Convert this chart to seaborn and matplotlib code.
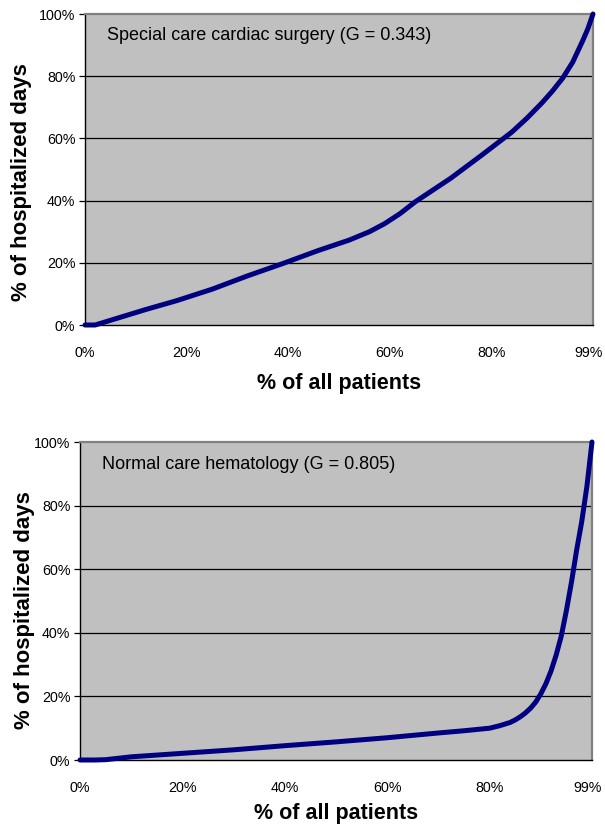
import matplotlib
matplotlib.use("Agg")
import matplotlib.pyplot as plt
import matplotlib.transforms as mtransforms
import seaborn as sns
import pandas as pd

# ---- data (percent) ----
top_x = [0, 2, 4, 8, 12, 18, 25, 32, 39, 46, 52, 56, 59, 62, 65, 72, 78, 84, 87, 90, 92, 94, 96, 98, 99, 100]
top_y = [0, 0, 1, 3, 5, 7.8, 11.5, 15.8, 19.8, 24, 27.3, 30, 32.6, 35.8, 39.6, 47.2, 54.5, 62, 66.5, 71.5, 75.2, 79.3, 84.5, 91.5, 95.3, 100]

bot_x = [0, 3, 5, 10, 20, 30, 40, 50, 60, 70, 75, 80, 82, 84, 85, 86, 87, 88, 89, 90, 91, 92, 93, 94, 95, 96, 97, 98, 99, 100]
bot_y = [0, 0, 0.1, 1.0, 2.1, 3.2, 4.5, 5.7, 7.0, 8.5, 9.2, 10, 10.8, 11.8, 12.6, 13.6, 14.8, 16.3, 18.2, 20.8, 24, 28, 33, 39, 47, 56, 66, 75, 86, 100]

x_ticks = [0, 20, 40, 60, 80, 100]
x_tick_labels = ["0%", "20%", "40%", "60%", "80%", "99%"]
y_ticks = [0, 20, 40, 60, 80, 100]
y_tick_labels = ["0%", "20%", "40%", "60%", "80%", "100%"]

titles = ["Special care cardiac surgery (G = 0.343)", "Normal care hematology (G = 0.805)"]
x_label = "% of all patients"
y_label = "% of hospitalized days"

sns.set_style("white")
plt.rcParams["font.family"] = ["Liberation Sans", "DejaVu Sans"]
plt.rcParams["text.color"] = "black"
plt.rcParams["axes.labelcolor"] = "black"
plt.rcParams["xtick.color"] = "black"
plt.rcParams["ytick.color"] = "black"

fig = plt.figure(figsize=(6.05, 8.27), dpi=100)
W, H = 605, 827

def px_axes(l, t, r, b):
    return fig.add_axes([l / W, 1 - b / H, (r - l) / W, (b - t) / H])

ax1 = px_axes(85, 14, 593, 325)
ax2 = px_axes(80, 442, 592, 760)

line_color = "#000080"
for ax, xs, ys, title, xpad, ylc in [(ax1, top_x, top_y, titles[0], 9.5, (-0.104, 0.46)),
                                     (ax2, bot_x, bot_y, titles[1], 6, (-0.088, 0.472))]:
    df = pd.DataFrame({"x": xs, "y": ys})
    ax.set_facecolor("#C0C0C0")
    for yt in y_ticks[1:-1]:
        ax.axhline(yt, color="black", lw=0.9, zorder=1)
    sns.lineplot(data=df, x="x", y="y", ax=ax, color=line_color, lw=3.6,
                 clip_on=False, zorder=3)
    ax.set_xlim(0, 100)
    ax.set_ylim(0, 100)
    ax.set_xticks(x_ticks)
    ax.set_xticklabels(x_tick_labels, fontsize=10.3)
    ax.set_yticks(y_ticks)
    ax.set_yticklabels(y_tick_labels, fontsize=10.3)
    ax.tick_params(axis="x", length=0, pad=15)
    ax.tick_params(axis="y", length=4, width=0.9, color="black", pad=3, left=True)
    last = ax.get_xticklabels()[-1]
    last.set_transform(last.get_transform() +
                       mtransforms.ScaledTranslation(-4 / 100, 0, fig.dpi_scale_trans))
    for s in ["left", "bottom"]:
        ax.spines[s].set_color("black")
        ax.spines[s].set_linewidth(1.0)
    for s in ["top", "right"]:
        ax.spines[s].set_color("#808080")
        ax.spines[s].set_linewidth(1.6)
    ax.set_xlabel(x_label, fontsize=15.5, fontweight="bold", labelpad=xpad)
    ax.set_ylabel(y_label, fontsize=16, fontweight="bold")
    ax.yaxis.set_label_coords(*ylc)
    ax.text(0.043, 0.93, title, transform=ax.transAxes, fontsize=13,
            va="center", ha="left")

fig.savefig("out.png", dpi=100)
